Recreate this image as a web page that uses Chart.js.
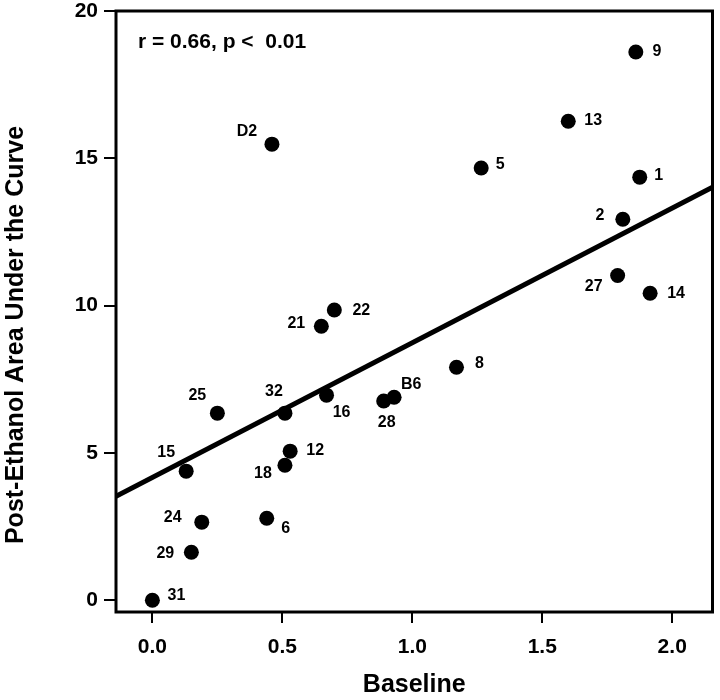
<!DOCTYPE html>
<html>
<head>
<meta charset="utf-8">
<script src="https://cdn.jsdelivr.net/npm/chart.js@4.4.1/dist/chart.umd.min.js"></script>
<style>
  html, body { margin: 0; padding: 0; background: #fff; }
  #wrap { width: 720px; height: 700px; }
</style>
</head>
<body>
<div id="wrap"><canvas id="chart"></canvas></div>
<script>
// subject ids and values
const ids = ['31', '29', '24', '15', '6', '18', '12', '25', '32', '16', '28', 'B6',
  '21', '22', '8', 'D2', '5', '13', '9', '1', '2', '27', '14'];
const baseline = [0.00, 0.15, 0.19, 0.13, 0.44, 0.51, 0.53, 0.25, 0.51, 0.67, 0.89, 0.93,
  0.65, 0.70, 1.17, 0.46, 1.265, 1.60, 1.86, 1.875, 1.81, 1.79, 1.915];
const postEthanol = [0.0, 1.63, 2.65, 4.38, 2.78, 4.58, 5.06, 6.35, 6.35, 6.96, 6.76, 6.89,
  9.30, 9.85, 7.91, 15.48, 14.67, 16.26, 18.61, 14.36, 12.93, 11.02, 10.42];

// regression line end points (at the axis edges)
const fitX = [-0.14, 2.155];
const fitY = [3.53, 14.02];

const xTicks = [0, 0.5, 1.0, 1.5, 2.0];
const yTicks = [0, 5, 10, 15, 20];

// label offsets in pixels from each dot (layout only)
const labelOffset = {
  '31': [24, -5], '29': [-26, 1], '24': [-29, -5], '15': [-20, -19], '6': [19, 10],
  '18': [-22, 8], '12': [25, -1], '25': [-20, -18], '32': [-11, -22], '16': [15, 17],
  '28': [3, 22], 'B6': [17, -13], '21': [-25, -3], '22': [27, 1], '8': [23, -4],
  'D2': [-25, -13], '5': [19, -3], '13': [25, -1], '9': [21, 0], '1': [19, -2],
  '2': [-23, -4], '27': [-24, 11], '14': [26, 0]
};

const FONT = "'Liberation Sans', Arial, Helvetica, sans-serif";

const points = baseline.map((x, i) => ({ x: x, y: postEthanol[i] }));
const fitLine = fitX.map((x, i) => ({ x: x, y: fitY[i] }));

// box, point labels, annotation and axis titles
const decorations = {
  id: 'decorations',
  afterDatasetsDraw(chart) {
    const ctx = chart.ctx;
    const a = chart.chartArea;
    const xs = chart.scales.x, ys = chart.scales.y;
    ctx.save();
    ctx.strokeStyle = '#000';
    ctx.lineWidth = 3;
    ctx.strokeRect(a.left, a.top, a.right - a.left, a.bottom - a.top);

    ctx.fillStyle = '#000';
    ctx.font = 'bold 16px ' + FONT;
    ctx.textAlign = 'center';
    ctx.textBaseline = 'middle';
    ids.forEach((id, i) => {
      const off = labelOffset[id] || [18, 0];
      ctx.fillText(id, xs.getPixelForValue(baseline[i]) + off[0], ys.getPixelForValue(postEthanol[i]) + off[1]);
    });

    ctx.font = 'bold 21px ' + FONT;
    ctx.textAlign = 'left';
    ctx.fillText('r = 0.66, p <  0.01', a.left + 22, a.top + 31);

    ctx.font = 'bold 25px ' + FONT;
    ctx.textAlign = 'center';
    ctx.fillText('Baseline', (a.left + a.right) / 2, 685);
    ctx.translate(16, 335);
    ctx.rotate(-Math.PI / 2);
    ctx.fillText('Post-Ethanol Area Under the Curve', 0, 0);
    ctx.restore();
  }
};

new Chart(document.getElementById('chart'), {
  type: 'scatter',
  data: {
    datasets: [{
      label: 'Subjects',
      data: points,
      backgroundColor: '#000',
      borderColor: '#000',
      pointRadius: 7.5,
      pointHoverRadius: 7.5,
      borderWidth: 0
    }, {
      label: 'Fit',
      type: 'line',
      data: fitLine,
      borderColor: '#000',
      borderWidth: 5,
      pointRadius: 0,
      fill: false
    }]
  },
  options: {
    responsive: true,
    maintainAspectRatio: false,
    animation: false,
    layout: { padding: { top: 11, right: 7, left: 0, bottom: 0 } },
    plugins: {
      legend: { display: false },
      tooltip: { enabled: false }
    },
    scales: {
      x: {
        type: 'linear',
        min: fitX[0],
        max: fitX[1],
        afterFit(scale) {
          scale.height = 88;
          scale.paddingLeft = 0;
          scale.paddingRight = 0;
        },
        afterBuildTicks(scale) { scale.ticks = xTicks.map(v => ({ value: v })); },
        border: { display: false },
        grid: { drawOnChartArea: false, drawTicks: true, tickLength: 11, color: '#000', lineWidth: 2 },
        ticks: {
          padding: 12,
          color: '#000',
          font: { family: FONT, size: 21, weight: 'bold' },
          callback: v => Number(v).toFixed(1)
        }
      },
      y: {
        type: 'linear',
        min: -0.4,
        max: 20,
        afterFit(scale) {
          scale.width = 116;
          scale.paddingTop = 0;
          scale.paddingBottom = 0;
        },
        afterBuildTicks(scale) { scale.ticks = yTicks.map(v => ({ value: v })); },
        border: { display: false },
        grid: { drawOnChartArea: false, drawTicks: true, tickLength: 12, color: '#000', lineWidth: 2 },
        ticks: {
          padding: 6,
          color: '#000',
          font: { family: FONT, size: 21, weight: 'bold' },
          callback: v => String(v)
        }
      }
    }
  },
  plugins: [decorations]
});
</script>
</body>
</html>
